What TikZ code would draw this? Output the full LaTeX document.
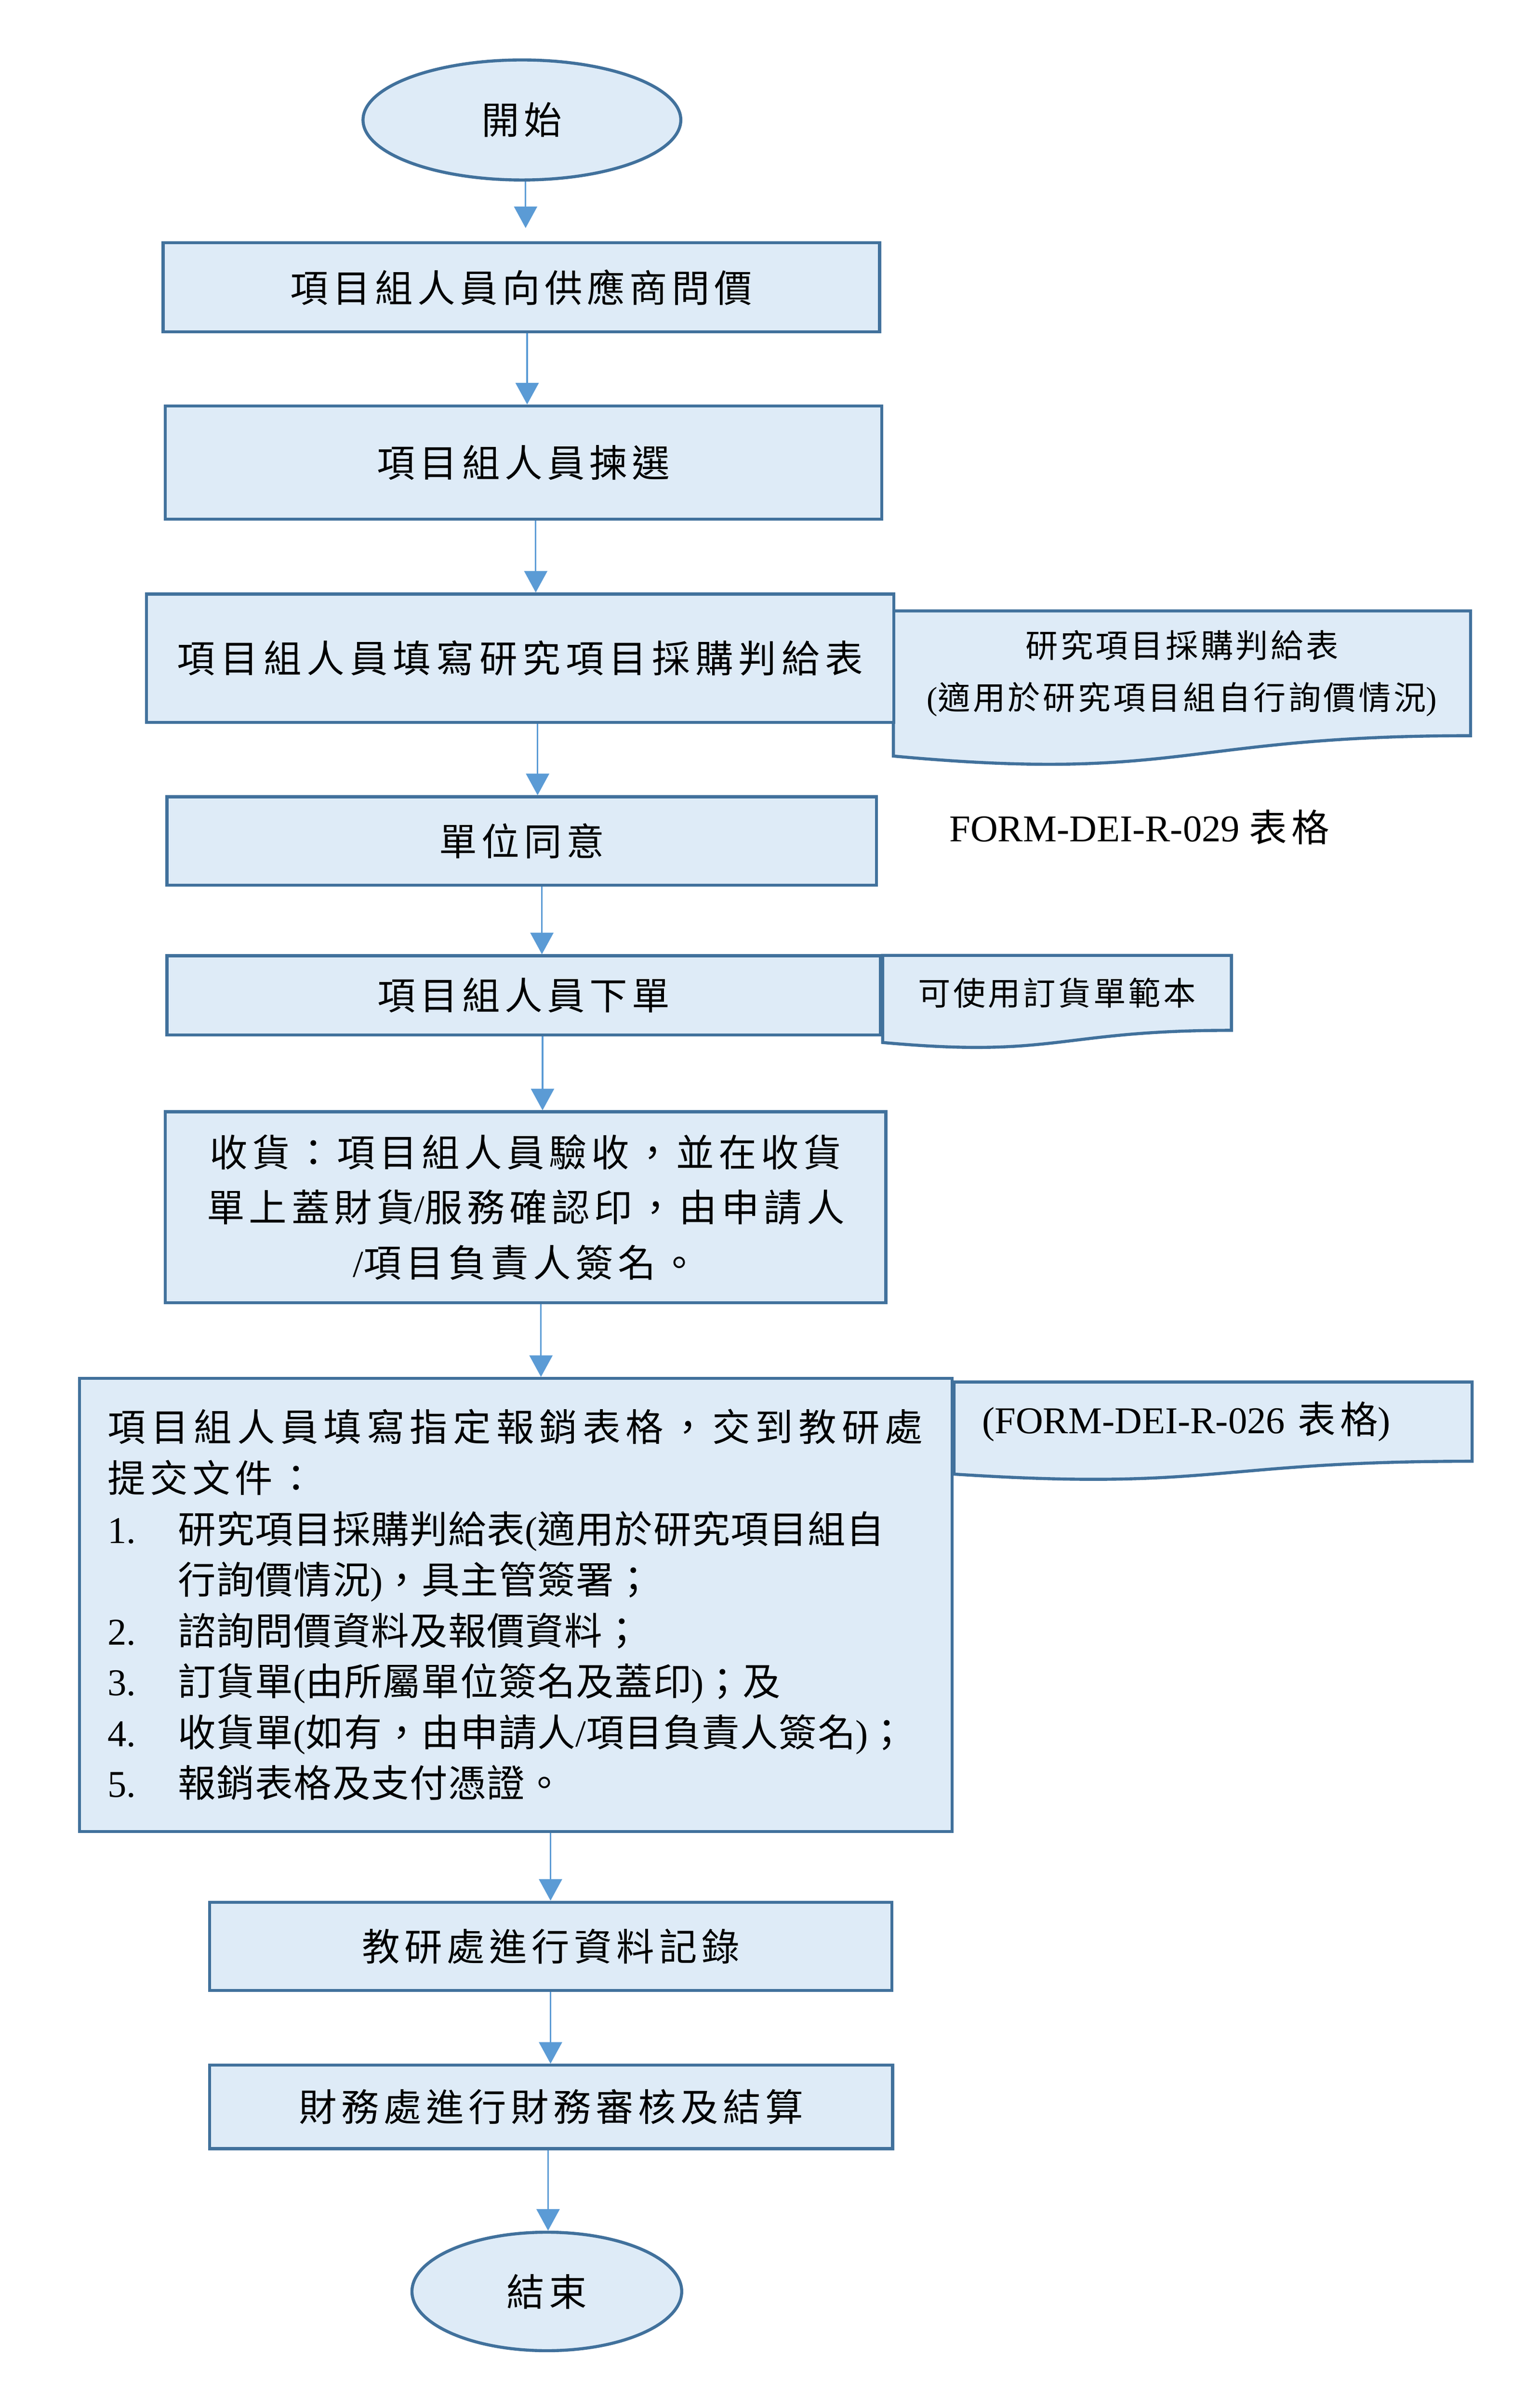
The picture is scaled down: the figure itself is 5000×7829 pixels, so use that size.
\documentclass[tikz,border=0pt]{standalone}
\usepackage{fontspec}
\setmainfont{Liberation Serif}
\newfontfamily\cjk[LetterSpace=12]{Noto Sans CJK TC}
\newfontfamily\cjkwide[LetterSpace=14]{Noto Sans CJK TC}
\newfontfamily\cjklist[LetterSpace=2]{Noto Sans CJK TC}
\newfontfamily\cjknote[LetterSpace=8]{Noto Sans CJK TC}
\newcommand\eng[1]{{\rmfamily #1}}
\newcommand\itemno[1]{\makebox[0.912cm][l]{\eng{#1}}}
\usepackage{xcolor}
\usetikzlibrary{arrows.meta}
\usetikzlibrary{shapes.geometric}
\usetikzlibrary{backgrounds}
\definecolor{boxfill}{HTML}{DEEBF7}
\definecolor{boxline}{HTML}{41719C}
\definecolor{flowblue}{HTML}{5B9BD5}
\newcommand\docshape[2]{%
  \filldraw[fill=boxfill, draw=boxline, line width=0.04cm]
    ([yshift=-0.1646*#2]#1.south west) -- (#1.north west) -- (#1.north east)
    -- (#1.south east) .. controls (#1.south) and ([yshift=-0.381*#2]#1.south)
    .. ([yshift=-0.1646*#2]#1.south west) -- cycle;}

\begin{document}
\begin{tikzpicture}[x=0.004cm, y=-0.004cm, >={Triangle[width=0.3cm, length=0.28cm]},
    every node/.style={font=\fontsize{14}{20}\selectfont\cjk},
    proc/.style={draw=boxline, fill=boxfill, line width=0.04cm, inner sep=0pt},
    term/.style={ellipse, draw=boxline, fill=boxfill, line width=0.04cm, inner sep=0pt},
    note/.style={inner sep=0pt, align=center},
    flow/.style={->, draw=flowblue, fill=flowblue, line width=0.02cm}]
      \useasboundingbox (0,0) rectangle (5000,7829);
      \node[term, minimum width=4.128cm, minimum height=1.56cm]  (start) at (1696,390)  {開始};
      \node[proc, minimum width=9.308cm, minimum height=1.16cm]  (p_1)   at (1694,934)  {項目組人員向供應商問價};
      \node[proc, minimum width=9.308cm, minimum height=1.472cm] (p_2)   at (1701,1504) {項目組人員揀選};
      \node[proc, minimum width=9.708cm, minimum height=1.668cm,
            font=\fontsize{14}{20}\selectfont\cjkwide]           (p_3)   at (1690,2140) {項目組人員填寫研究項目採購判給表};
      \node[note, minimum width=7.484cm, minimum height=1.608cm,
            font=\fontsize{12}{19.3}\selectfont\cjknote]         (d_1)   at (3841,2189)
            {研究項目採購判給表\\\eng{(}適用於研究項目組自行詢價情況\eng{)}};
      \node[note]                                                (f_1)   at (3703,2690) {\eng{FORM-DEI-R-029 }表格};
      \node[proc, minimum width=9.216cm, minimum height=1.148cm] (p_4)   at (1695,2734) {單位同意};
      \node[proc, minimum width=9.272cm, minimum height=1.028cm] (p_5)   at (1702,3236) {項目組人員下單};
      \node[note, minimum width=4.516cm, minimum height=0.96cm,
            font=\fontsize{12}{19.3}\selectfont\cjknote]         (d_2)   at (3435,3228) {可使用訂貨單範本};
      \node[proc, minimum width=9.36cm, minimum height=2.48cm, align=center,
            font=\fontsize{14}{20.4}\selectfont\cjk]             (p_6)   at (1708,3925)
            {收貨：項目組人員驗收，並在收貨\\單上蓋財貨\eng{/}服務確認印，由申請人\\\eng{/}項目負責人簽名。};
      \node[proc, minimum width=11.336cm, minimum height=5.888cm, text width=10.6cm, align=left,
            font=\fontsize{14}{18.8}\selectfont\cjklist]         (p_7)   at (1676,5218)
            {{\cjkwide 項目組人員填寫指定報銷表格，交到教研處}\\
             {\cjk 提交文件：}\\
             \itemno{1.}研究項目採購判給表\eng{(}適用於研究項目組自\\
             \hspace*{0.912cm}行詢價情況\eng{)}，具主管簽署；\\
             \itemno{2.}諮詢問價資料及報價資料；\\
             \itemno{3.}訂貨單\eng{(}由所屬單位簽名及蓋印\eng{)}；及\\
             \itemno{4.}收貨單\eng{(}如有，由申請人\eng{/}項目負責人簽名\eng{)}；\\
             \itemno{5.}報銷表格及支付憑證。};
      \node[note, minimum width=6.716cm, minimum height=1.016cm,
            inner xsep=0.358cm, text width=6cm, align=left]      (d_3)   at (3942,4622) {\eng{(FORM-DEI-R-026 }表格\eng{)}};
      \node[proc, minimum width=8.864cm, minimum height=1.148cm] (p_8)   at (1790,6328) {教研處進行資料記錄};
      \node[proc, minimum width=8.872cm, minimum height=1.084cm] (p_9)   at (1791,6850) {財務處進行財務審核及結算};
      \node[term, minimum width=3.504cm, minimum height=1.54cm]  (stop)  at (1777,7450) {結束};
      \begin{pgfonlayer}{background}
        \docshape{d_1}{1.608cm}
        \docshape{d_2}{0.96cm}
        \docshape{d_3}{1.016cm}
      \end{pgfonlayer}
      \foreach \from/\to/\col/\gap in {start/p_1/1708/0.17cm, p_1/p_2/1713/0pt, p_2/p_3/1741/0pt,
          p_3/p_4/1747/0pt, p_4/p_5/1761/0pt, p_5/p_6/1763/0pt, p_6/p_7/1758/0pt,
          p_7/p_8/1789/0pt, p_8/p_9/1789/0pt, p_9/stop/1781/0pt}{
        \coordinate (col) at (\col,0);
        \draw[flow, shorten >=\gap] (\from.south -| col) -- (\to.north -| col);
      }
\end{tikzpicture}
\end{document}
